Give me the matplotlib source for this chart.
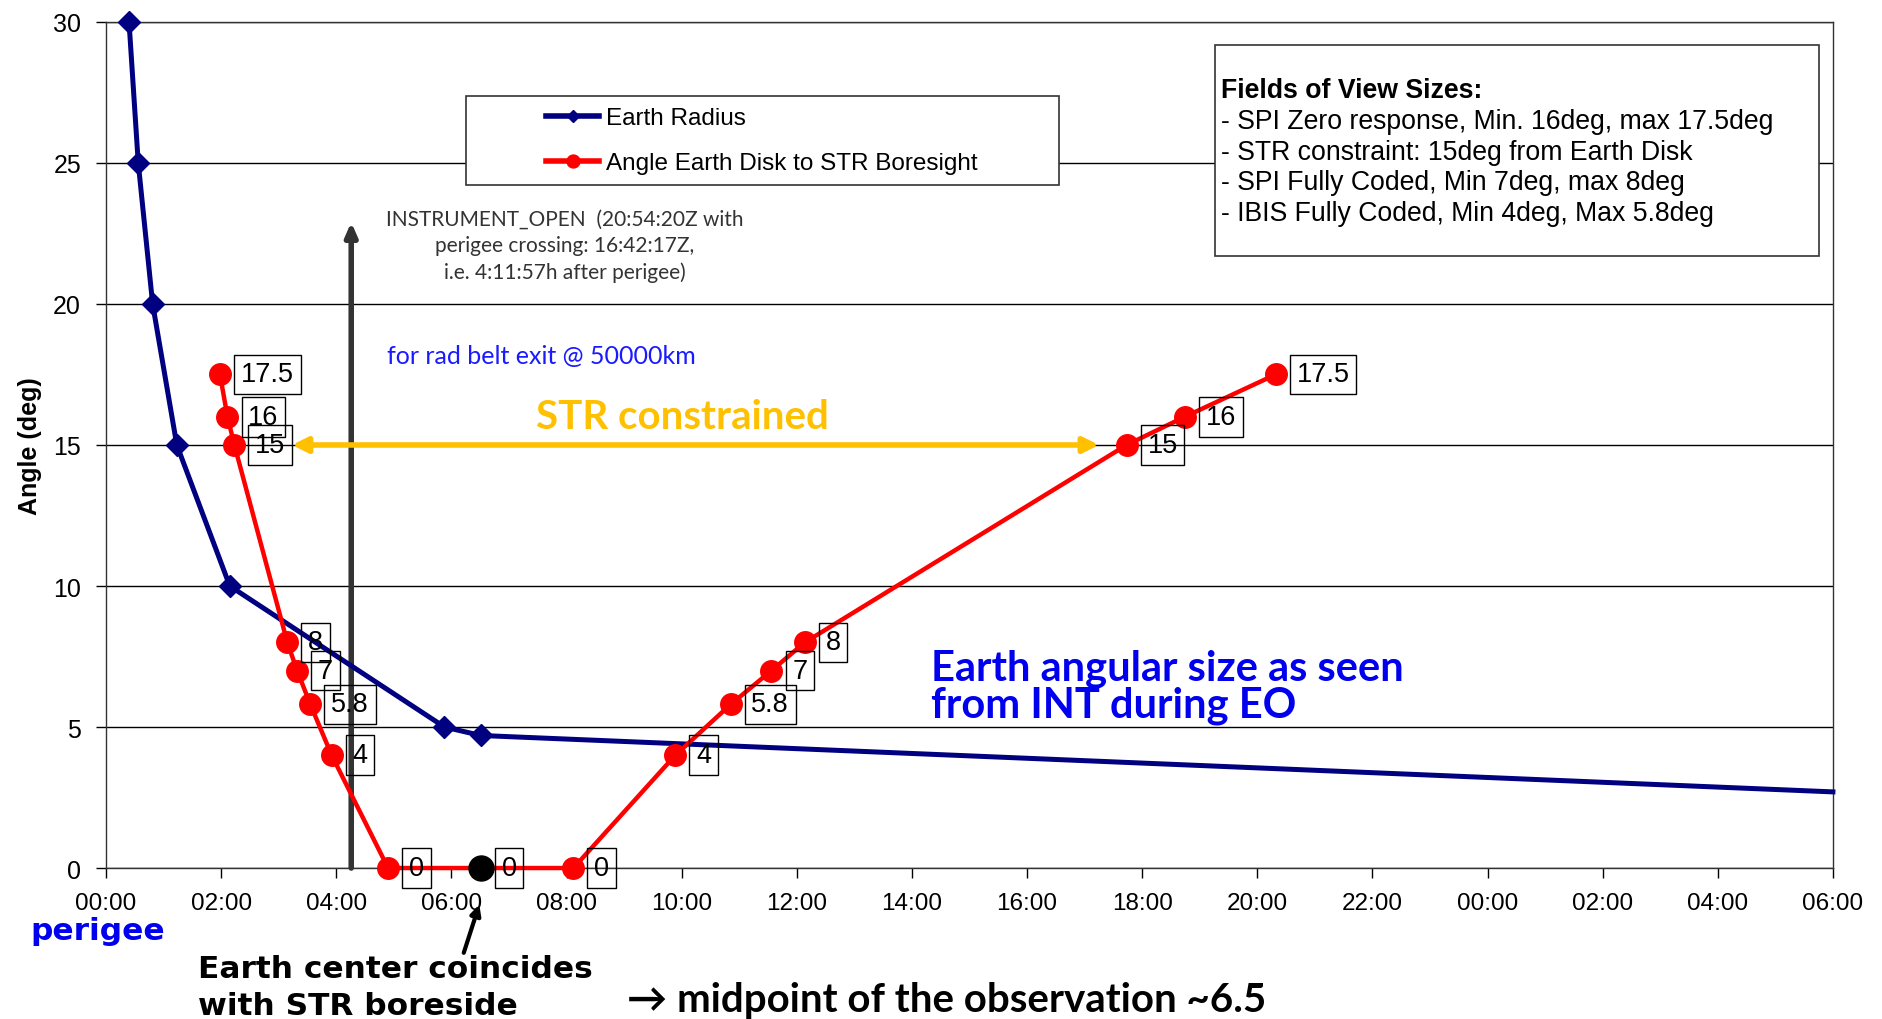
import matplotlib
matplotlib.use("Agg")
import matplotlib.pyplot as plt
from matplotlib.patches import Rectangle

# ---------------- data ----------------
# time in hours after perigee
radius_t = [0.40, 0.56, 0.81, 1.23, 2.15, 5.88, 6.51, 30.0]
radius_v = [30, 25, 20, 15, 10, 5, 4.7, 2.7]

angle_t = [1.98, 2.11, 2.23, 3.15, 3.32, 3.55, 3.92, 4.90, 8.12, 9.89, 10.85, 11.56, 12.14, 17.73, 18.74, 20.32]
angle_v = [17.5, 16, 15, 8, 7, 5.8, 4, 0, 0, 4, 5.8, 7, 8, 15, 16, 17.5]

center_t = [6.51]
center_v = [0]

xtick_pos = [0, 2, 4, 6, 8, 10, 12, 14, 16, 18, 20, 22, 24, 26, 28, 30]
xtick_labels = ["00:00", "02:00", "04:00", "06:00", "08:00", "10:00", "12:00", "14:00",
                "16:00", "18:00", "20:00", "22:00", "00:00", "02:00", "04:00", "06:00"]
ytick_pos = [0, 5, 10, 15, 20, 25, 30]

instrument_open_t = 4.26
str_constrained = [3.23, 17.25, 15]

fov_lines = ["Fields of View Sizes:",
             "- SPI Zero response, Min. 16deg, max 17.5deg",
             "- STR constraint: 15deg from Earth Disk",
             "- SPI Fully Coded, Min 7deg, max 8deg",
             "- IBIS Fully Coded, Min 4deg, Max 5.8deg"]

# ---------------- figure ----------------
W, H = 1883, 1020
fig = plt.figure(figsize=(W / 100, H / 100), dpi=100)
ax = fig.add_axes([0.0563, 0.148, 0.9171, 0.8295])

S = 1883 / 1568.0
def fx(x):
    return x * S / W
def fy(y):
    return 1 - y * S / H

arial = ["Liberation Sans", "DejaVu Sans"]
calib = ["Lato", "DejaVu Sans"]
verd = ["DejaVu Sans"]

ax.plot(radius_t, radius_v, color="#000080", lw=3.6, marker="D", ms=11,
        markevery=list(range(len(radius_t) - 1)), label="Earth Radius", zorder=4, clip_on=False)
ax.plot(angle_t, angle_v, color="#ff0000", lw=3.2, marker="o", ms=15.5,
        label="Angle Earth Disk to STR Boresight", zorder=5, clip_on=False)
ax.plot(center_t, center_v, ls="none", marker="o", ms=18, color="black", zorder=6, clip_on=False)

for t, v in list(zip(angle_t, angle_v)) + list(zip(center_t, center_v)):
    ax.annotate(f"{v:g}", xy=(t, v), xytext=(15, 0), textcoords="offset points",
                ha="left", va="center", fontsize=19.5, family=arial, zorder=7,
                bbox=dict(boxstyle="square,pad=0.25", fc="none", ec="black", lw=1.0))

ax.set_xlim(0, 30)
ax.set_ylim(0, 30)
ax.set_xticks(xtick_pos)
ax.set_xticklabels(xtick_labels)
ax.set_yticks(ytick_pos)
for lab in ax.get_xticklabels() + ax.get_yticklabels():
    lab.set_family(arial)
    lab.set_fontsize(17.5)
ax.tick_params(axis="both", direction="out", length=7, width=1.0, color="black")
ax.tick_params(axis="x", pad=10)
ax.tick_params(axis="y", pad=11, labelsize=18)
ax.grid(axis="y", color="black", lw=1.0)
ax.set_axisbelow(True)
for sp in ax.spines.values():
    sp.set_color("#333333")
    sp.set_linewidth(1.0)
ax.set_ylabel("Angle (deg)", fontsize=18, fontweight="bold", family=arial, labelpad=8)

# instrument open arrow
ax.annotate("", xy=(instrument_open_t, 22.9), xytext=(instrument_open_t, 0),
            arrowprops=dict(arrowstyle="-|>,head_length=0.8,head_width=0.35", color="#333333", lw=4,
                            shrinkA=0, shrinkB=0),
            zorder=3)
fig.text(fx(470), fy(205), "INSTRUMENT_OPEN  (20:54:20Z with\nperigee crossing: 16:42:17Z,\ni.e. 4:11:57h after perigee)",
         ha="center", va="center", fontsize=15, family=calib, color="#333333", linespacing=1.38)
fig.text(fx(322), fy(297), "for rad belt exit @ 50000km", ha="left", va="center",
         fontsize=18, family=calib, color="#1a1aff")

# STR constrained
ax.annotate("", xy=(str_constrained[0], str_constrained[2]), xytext=(str_constrained[1], str_constrained[2]),
            arrowprops=dict(arrowstyle="<|-|>,head_length=0.9,head_width=0.45", color="#ffc000", lw=4,
                            shrinkA=0, shrinkB=0), zorder=6)
fig.text(fx(568), fy(348), "STR constrained", ha="center", va="center", fontsize=29,
         fontweight="bold", family=calib, color="#ffc000")

fig.text(fx(775), fy(572), "Earth angular size as seen\nfrom INT during EO", ha="left", va="center",
         fontsize=30, fontweight="bold", family=calib, color="#0000ee", linespacing=0.95)

# legend
ax.add_patch(Rectangle((fx(388), fy(155)), fx(882) - fx(388), fy(81) - fy(155),
                       transform=fig.transFigure, fc="white", ec="#333333", lw=1.2, zorder=9,
                       clip_on=False))
leg = ax.legend(loc="upper left", bbox_to_anchor=(546 / W, 1 - 108 / H), bbox_transform=fig.transFigure,
                frameon=False, prop=dict(family=arial, size=17.5), handlelength=2.2,
                handletextpad=0.25, labelspacing=0.95, borderpad=0, borderaxespad=0, markerscale=0.6)
leg.set_zorder(10)
for ln in leg.get_lines():
    ln.set_linewidth(4.0)

# fields of view box
ax.add_patch(Rectangle((fx(1012), fy(214)), fx(1515) - fx(1012), fy(38) - fy(214),
                       transform=fig.transFigure, fc="white", ec="#333333", lw=1.2, zorder=9,
                       clip_on=False))
for i, line in enumerate(fov_lines):
    fig.text(fx(1017), fy(76 + i * 25.5), line, ha="left", va="center", fontsize=19.2,
             family=arial, fontweight="bold" if i == 0 else "normal", zorder=3)

# bottom annotations
fig.text(fx(25), fy(776), "perigee", ha="left", va="center", fontsize=22.5, fontweight="bold",
         family=verd, color="#0000ee")
fig.text(fx(165), fy(823), "Earth center coincides\nwith STR boreside", ha="left", va="center",
         fontsize=22.5, fontweight="bold", family=verd, color="black", linespacing=1.35)
ax.annotate("", xy=(6.5, -1.2), xytext=(6.2, -3.1), xycoords="data", annotation_clip=False,
            arrowprops=dict(arrowstyle="-|>,head_length=0.6,head_width=0.3", color="black", lw=3))
fig.text(fx(522), fy(833), "\u2192 midpoint of the observation ~6.5", ha="left", va="center",
         fontsize=29, fontweight="bold", family=calib, color="black")

fig.savefig("out.png", dpi=100)
